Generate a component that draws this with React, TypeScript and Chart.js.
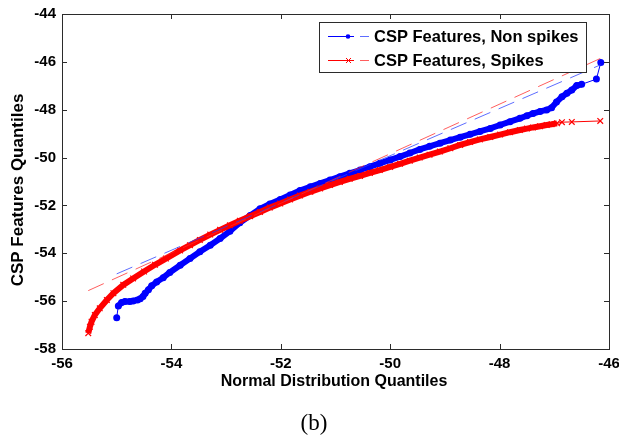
import React, { useEffect, useRef } from "react";
import { Chart, registerables } from "chart.js";

Chart.register(...registerables);

// ---- Data ----
const X_TICKS = [-56, -54, -52, -50, -48, -46];
const Y_TICKS = [-58, -56, -54, -52, -50, -48, -46, -44];

const nonSpikesX = [
  -55.0, -54.97, -54.91, -54.85, -54.76, -54.7, -54.62, -54.57, -54.52, -54.48,
  -54.42, -54.36, -54.27, -54.15, -54.03, -53.84, -53.66, -53.48, -53.29, -53.11,
  -52.93, -52.75, -52.56, -52.38, -52.2, -52.01, -51.83, -51.65, -51.46, -51.28,
  -51.1, -50.92, -50.74, -50.55, -50.37, -50.19, -50.0, -49.82, -49.64, -49.46,
  -49.28, -49.09, -48.9, -48.72, -48.54, -48.36, -48.17, -47.99, -47.81, -47.63,
  -47.5, -47.39, -47.26, -47.14, -47.05, -46.96, -46.86, -46.77, -46.68, -46.59,
  -46.5, -46.23, -46.15,
];
const nonSpikesY = [
  -56.69, -56.2, -56.06, -56.02, -56.02, -55.99, -55.95, -55.9, -55.81, -55.67,
  -55.52, -55.36, -55.2, -55.02, -54.8, -54.5, -54.22, -53.94, -53.66, -53.38,
  -53.08, -52.72, -52.42, -52.14, -51.94, -51.75, -51.56, -51.38, -51.22, -51.08,
  -50.94, -50.8, -50.66, -50.52, -50.38, -50.24, -50.1, -49.96, -49.81, -49.66,
  -49.53, -49.4, -49.27, -49.15, -49.03, -48.91, -48.78, -48.64, -48.5, -48.36,
  -48.25, -48.16, -48.07, -48.01, -47.92, -47.68, -47.46, -47.31, -47.18, -46.99,
  -46.94, -46.72, -46.03,
];

const spikesX = [
  -55.52, -55.49, -55.46, -55.4, -55.31, -55.18, -55.06, -54.88, -54.7, -54.5,
  -54.3, -54.1, -53.84, -53.66, -53.48, -53.29, -53.11, -52.93, -52.75, -52.56,
  -52.38, -52.2, -52.01, -51.83, -51.65, -51.46, -51.28, -51.1, -50.92, -50.74,
  -50.55, -50.37, -50.19, -50.0, -49.82, -49.64, -49.46, -49.28, -49.09, -48.9,
  -48.72, -48.54, -48.36, -48.17, -47.99, -47.81, -47.63, -47.5, -47.39, -47.26,
  -47.14, -47.05, -46.95, -46.86, -46.68, -46.16,
];
const spikesY = [
  -57.34, -57.07, -56.86, -56.58, -56.3, -55.95, -55.67, -55.32, -55.05, -54.76,
  -54.48, -54.22, -53.88, -53.66, -53.44, -53.22, -53.02, -52.83, -52.64, -52.45,
  -52.27, -52.09, -51.92, -51.75, -51.59, -51.43, -51.29, -51.15, -51.02, -50.89,
  -50.77, -50.64, -50.52, -50.39, -50.26, -50.13, -50.0, -49.88, -49.75, -49.61,
  -49.47, -49.35, -49.24, -49.14, -49.04, -48.94, -48.85, -48.79, -48.74, -48.69,
  -48.64, -48.61, -48.57, -48.52, -48.51, -48.47,
];

// reference (quartile) lines
const nonSpikesRefX = [-55.0, -46.15];
const nonSpikesRefY = [-54.86, -46.12];
const spikesRefX = [-55.52, -46.16];
const spikesRefY = [-55.56, -45.86];

const LEGEND_LABELS = ["CSP Features, Non spikes", "CSP Features, Spikes"];
const X_TITLE = "Normal Distribution Quantiles";
const Y_TITLE = "CSP Features Quantiles";
const CAPTION = "(b)";

// ---- Styling ----
const BLUE = "#0000ff";
const RED = "#ff0000";
const BLUE_DASH = "rgba(40,60,255,0.75)";
const RED_DASH = "rgba(255,40,40,0.75)";
const FRAME = "#2b2b2b";
const FONT = "Arial, 'Liberation Sans', sans-serif";
const BLUE_DENSE = [-54.97, -46.5];
const RED_DENSE = [-55.52, -46.95];

const pts = (xs: number[], ys: number[]) => xs.map((x, i) => ({ x, y: ys[i] }));

const decor = {
  id: "decor",
  afterDatasetsDraw(chart: any) {
    const { ctx, chartArea } = chart;
    const { left, right, top, bottom } = chartArea;
    const xs = chart.scales.x;
    const ys = chart.scales.y;
    ctx.save();
    // frame
    ctx.strokeStyle = FRAME;
    ctx.lineWidth = 1;
    ctx.strokeRect(Math.round(left) + 0.5, Math.round(top) + 0.5, Math.round(right - left), Math.round(bottom - top));
    // inward ticks on all sides
    ctx.beginPath();
    X_TICKS.forEach((v) => {
      const px = Math.round(xs.getPixelForValue(v)) + 0.5;
      ctx.moveTo(px, bottom);
      ctx.lineTo(px, bottom - 5);
      ctx.moveTo(px, top);
      ctx.lineTo(px, top + 5);
    });
    Y_TICKS.forEach((v) => {
      const py = Math.round(ys.getPixelForValue(v)) + 0.5;
      ctx.moveTo(left, py);
      ctx.lineTo(left + 5, py);
      ctx.moveTo(right, py);
      ctx.lineTo(right - 5, py);
    });
    ctx.stroke();

    // legend
    const lx = 319.5, ly = 22.5, lw = 267, lh = 50;
    ctx.fillStyle = "#ffffff";
    ctx.fillRect(lx, ly, lw, lh);
    ctx.strokeStyle = FRAME;
    ctx.strokeRect(lx, ly, lw, lh);
    const rows = [
      { y: 36.5, color: BLUE, dash: BLUE_DASH, marker: "dot" },
      { y: 60.5, color: RED, dash: RED_DASH, marker: "x" },
    ];
    rows.forEach((r, i) => {
      ctx.strokeStyle = r.color;
      ctx.lineWidth = 1;
      ctx.beginPath();
      ctx.moveTo(328, r.y);
      ctx.lineTo(354, r.y);
      ctx.stroke();
      if (r.marker === "dot") {
        ctx.fillStyle = r.color;
        ctx.beginPath();
        ctx.arc(348, r.y, 2.3, 0, Math.PI * 2);
        ctx.fill();
      } else {
        ctx.beginPath();
        ctx.moveTo(346, r.y - 2.5);
        ctx.lineTo(351, r.y + 2.5);
        ctx.moveTo(351, r.y - 2.5);
        ctx.lineTo(346, r.y + 2.5);
        ctx.stroke();
      }
      ctx.strokeStyle = r.dash;
      ctx.beginPath();
      ctx.moveTo(360, r.y);
      ctx.lineTo(369, r.y);
      ctx.stroke();
      ctx.fillStyle = "#000";
      ctx.font = `bold 16.5px ${FONT}`;
      ctx.textAlign = "left";
      ctx.textBaseline = "middle";
      ctx.fillText(LEGEND_LABELS[i], 374, r.y + 0.5);
    });

    // axis titles
    ctx.fillStyle = "#000";
    ctx.font = `bold 16px ${FONT}`;
    ctx.textAlign = "center";
    ctx.textBaseline = "middle";
    ctx.fillText(X_TITLE, 334, 382);
    ctx.save();
    ctx.translate(18, 190);
    ctx.rotate(-Math.PI / 2);
    ctx.font = `bold 17px ${FONT}`;
    ctx.fillText(Y_TITLE, 0, 0);
    ctx.restore();
    // caption
    ctx.font = `23px 'Liberation Serif', 'Times New Roman', serif`;
    ctx.textBaseline = "alphabetic";
    ctx.fillText(CAPTION, 314, 430);
    ctx.restore();
  },
};

export default function App() {
  const ref = useRef<HTMLCanvasElement | null>(null);
  useEffect(() => {
    if (!ref.current) return;
    const denseWidth = (xs: number[], range: number[]) => (c: any) => {
      const a = xs[c.p0DataIndex];
      const b = xs[c.p1DataIndex];
      return a >= range[0] && b <= range[1] ? 6 : 1;
    };
    const chart = new Chart(ref.current, {
      type: "line",
      data: {
        datasets: [
          {
            label: "ref spikes",
            data: pts(spikesRefX, spikesRefY),
            borderColor: RED_DASH,
            borderWidth: 1,
            borderDash: [17, 9],
            pointRadius: 0,
            fill: false,
          },
          {
            label: "ref non spikes",
            data: pts(nonSpikesRefX, nonSpikesRefY),
            borderColor: BLUE_DASH,
            borderWidth: 1,
            borderDash: [17, 9],
            pointRadius: 0,
            fill: false,
          },
          {
            label: LEGEND_LABELS[1],
            data: pts(spikesX, spikesY),
            borderColor: RED,
            backgroundColor: RED,
            borderWidth: 6,
            pointStyle: "crossRot",
            pointRadius: 4,
            pointBorderWidth: 1.2,
            pointBorderColor: RED,
            fill: false,
            tension: 0,
            segment: { borderWidth: denseWidth(spikesX, RED_DENSE) },
          } as any,
          {
            label: LEGEND_LABELS[0],
            data: pts(nonSpikesX, nonSpikesY),
            borderColor: BLUE,
            backgroundColor: BLUE,
            borderWidth: 6,
            pointStyle: "circle",
            pointRadius: 3.5,
            pointBorderWidth: 0,
            fill: false,
            tension: 0,
            segment: { borderWidth: denseWidth(nonSpikesX, BLUE_DENSE) },
          } as any,
        ],
      },
      options: {
        responsive: false,
        animation: false,
        events: [],
        layout: { padding: { top: 14, right: 10, left: 0, bottom: 0 } },
        plugins: {
          legend: { display: false },
          tooltip: { enabled: false },
        },
        scales: {
          x: {
            type: "linear",
            min: -56,
            max: -46,
            grid: { display: false },
            border: { display: false },
            afterBuildTicks: (s: any) => {
              s.ticks = X_TICKS.map((v) => ({ value: v }));
            },
            ticks: {
              color: "#000",
              font: { family: FONT, size: 15, weight: "bold" },
              padding: -2,
              maxRotation: 0,
              autoSkip: false,
              callback: (v: any) => String(v),
            },
            afterFit: (s: any) => {
              s.height = 90;
              s.paddingLeft = 0;
              s.paddingRight = 0;
            },
          },
          y: {
            type: "linear",
            min: -58,
            max: -44,
            grid: { display: false },
            border: { display: false },
            afterBuildTicks: (s: any) => {
              s.ticks = Y_TICKS.map((v) => ({ value: v }));
            },
            ticks: {
              color: "#000",
              font: { family: FONT, size: 15, weight: "bold" },
              padding: -2,
              autoSkip: false,
              callback: (v: any) => String(v),
            },
            afterFit: (s: any) => {
              s.width = 62;
              s.paddingTop = 0;
              s.paddingBottom = 0;
            },
          },
        },
      } as any,
      plugins: [decor],
    });
    return () => chart.destroy();
  }, []);

  return (
    <div style={{ position: "fixed", left: 0, top: 0, width: 619, height: 439, background: "#fff" }}>
      <canvas ref={ref} width={619} height={439} style={{ display: "block" }} />
    </div>
  );
}
